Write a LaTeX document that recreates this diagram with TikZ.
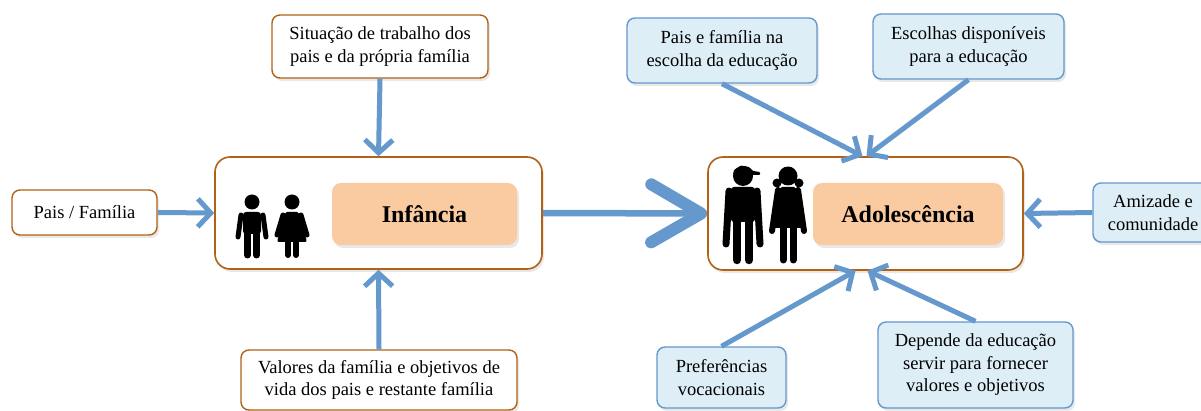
\documentclass[tikz,border=0pt]{standalone}
\usepackage{fontspec}
\setmainfont{LiberationSerif-Regular.ttf}[BoldFont=LiberationSerif-Bold.ttf]
\usetikzlibrary{arrows.meta,shadows}
\definecolor{brn}{RGB}{178,98,22}
\definecolor{peach}{RGB}{250,202,160}
\definecolor{arr}{RGB}{101,152,204}
\definecolor{lblue}{RGB}{222,238,246}
\tikzset{
 kidboy/.pic={
  \fill (0,0) circle[radius=7.5];
  \fill[rounded corners=3pt] (-9,10) rectangle (9,32);
  \draw[line width=5pt,line cap=round] (-11,13) -- (-14,35) (11,13) -- (14,35);
  \draw[line width=7pt,line cap=round] (-4.5,30) -- (-4.5,53) (4.5,30) -- (4.5,53);
 },
 kidgirl/.pic={
  \fill (0,0) circle[radius=7.5];
  \fill[rounded corners=2pt] (-7,10) -- (7,10) -- (15,40) -- (-15,40) -- cycle;
  \draw[line width=5pt,line cap=round] (-9,13) -- (-15,33) (9,13) -- (15,33);
  \draw[line width=6pt,line cap=round] (-4,38) -- (-4,53) (4,38) -- (4,53);
 },
 teenboy/.pic={
  \fill (0,0) circle[radius=10];
  \fill[rounded corners=1pt] (-9,-6) -- (-2,-10.5) -- (6,-9) -- (10,-5) -- (17,-4) -- (17,-1) -- (-10,-1) -- cycle;
  \fill[rounded corners=3pt] (-12,11) rectangle (12,46);
  \draw[line width=7pt,line cap=round] (-14,15) -- (-17,68) (14,15) -- (17,68);
  \draw[line width=8.5pt,line cap=round] (-6,44) -- (-6,84) (6,44) -- (6,84);
 },
 teengirl/.pic={
  \fill (0,0) circle[radius=9.5];
  \fill (-11,7) circle[radius=4.5] (11,7) circle[radius=4.5];
  \fill[rounded corners=2pt] (-8,11) -- (8,11) -- (18,52) -- (-18,52) -- cycle;
  \draw[line width=6pt,line cap=round] (-10,14) -- (-16,55) (10,14) -- (16,55);
  \draw[line width=7pt,line cap=round] (-5,50) -- (-5,84) (5,50) -- (5,84);
 },
}
\begin{document}
\begin{tikzpicture}[x=1pt,y=-1pt,
  txt/.style={align=center, font=\fontsize{18.5}{22.5}\selectfont, inner sep=0pt},
  shad/.style={drop shadow={opacity=0.18,shadow xshift=2pt,shadow yshift=-3pt}},
  brownbox/.style={txt, shad, draw=brn, line width=1.4pt, fill=white, rounded corners=8pt},
  bluebox/.style={txt, shad, draw=arr, line width=1.4pt, fill=lblue, rounded corners=8pt},
  bigbox/.style={shad, draw=brn, line width=1.6pt, fill=white, rounded corners=15pt, inner sep=0pt},
  agebox/.style={shad, fill=peach, rounded corners=9pt, inner sep=0pt, font=\bfseries\fontsize{24}{28}\selectfont},
  conn/.style={draw=arr, line width=5pt, -{Straight Barb[length=13pt,width=28pt]}},
  bigconn/.style={draw=arr, line width=6.5pt, -{Straight Barb[length=50pt,width=58pt,line width=12pt,round]}},
]
\useasboundingbox (0,0) rectangle (1201,411);
\fill[white] (0,0) rectangle (1201,411);

% left group
\node[brownbox, minimum width=216pt, minimum height=63pt] (sit) at (380,46.5) {Situação de trabalho dos\\pais e da própria família};
\node[bigbox, minimum width=327pt, minimum height=112pt] (inf) at (378.5,213) {};
\node[agebox, minimum width=185pt, minimum height=62pt] (infl) at (424.5,214) {Infância};
\node[brownbox, minimum width=145pt, minimum height=45pt] (pais) at (84.5,212.5) {Pais / Família};
\node[brownbox, minimum width=276pt, minimum height=60pt] (val) at (379,380) {Valores da família e objetivos de\\vida dos pais e restante família};
\pic at (252,202) {kidboy};
\pic at (292,202) {kidgirl};

% right group
\node[bigbox, minimum width=315pt, minimum height=113pt] (ado) at (865.5,213.5) {};
\node[agebox, minimum width=190pt, minimum height=62pt] (adol) at (908,214) {Adolescência};
\node[bluebox, minimum width=190pt, minimum height=65pt] (pfe) at (722,50.5) {Pais e família na\\escolha da educação};
\node[bluebox, minimum width=191pt, minimum height=65pt] (esc) at (968.5,46.5) {Escolhas disponíveis\\para a educação};
\node[bluebox, minimum width=120pt, minimum height=59pt] (ami) at (1153,212.5) {Amizade e\\comunidade};
\node[bluebox, minimum width=129pt, minimum height=61pt] (pref) at (721.5,377.5) {Preferências\\vocacionais};
\node[bluebox, minimum width=195pt, minimum height=86pt] (dep) at (975.5,365) {Depende da educação\\servir para fornecer\\valores e objetivos};
\pic at (743,176) {teenboy};
\pic at (788,176) {teengirl};

% connectors
\draw[conn] (sit.south) -- (inf.north);
\draw[conn] (val.north) -- (inf.south);
\draw[conn] (pais.east) -- (inf.west);
\draw[bigconn] (inf.east) -- (ado.west);
\draw[conn] (pfe.south) -- ([xshift=-3pt]ado.north);
\draw[conn] (esc.south) -- ([xshift=1pt]ado.north);
\draw[conn] (ami.west) -- (ado.east);
\draw[conn] (pref.north) -- ([xshift=-10pt]ado.south);
\draw[conn] (dep.north) -- ([xshift=2pt]ado.south);
\end{tikzpicture}
\end{document}
